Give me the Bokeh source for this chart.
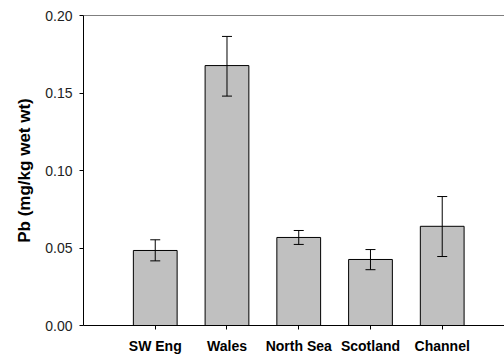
from bokeh.plotting import figure
from bokeh.models import (ColumnDataSource, Range1d, FixedTicker, NumeralTickFormatter,
                          Whisker, TeeHead)
from bokeh.embed import file_html
from bokeh.resources import INLINE

regions = ["SW Eng", "Wales", "North Sea", "Scotland", "Channel"]
pb_mean = [0.0484, 0.1677, 0.0568, 0.0426, 0.0640]
pb_lower = [0.0417, 0.1480, 0.0523, 0.0360, 0.0445]
pb_upper = [0.0553, 0.1865, 0.0613, 0.0490, 0.0832]
y_ticks = [0.00, 0.05, 0.10, 0.15, 0.20]

y_max = 0.20
x_end = 5.868
xs = list(range(1, len(regions) + 1))

src = ColumnDataSource(dict(x=xs, top=pb_mean, lower=pb_lower, upper=pb_upper))

p = figure(width=504, height=356, output_backend="svg", toolbar_location=None,
           x_range=Range1d(0.0, x_end), y_range=Range1d(0.0, y_max),
           min_border_left=83, min_border_right=0, min_border_top=15, min_border_bottom=31)
p.background_fill_color = None
p.border_fill_color = None
p.outline_line_color = None
p.outline_line_width = 0
p.outline_line_alpha = 0
p.xgrid.grid_line_color = None
p.ygrid.grid_line_color = None

p.vbar(x="x", top="top", bottom=0, width=0.61, source=src,
       fill_color="#c0c0c0", line_color="black", line_width=1)

wh = Whisker(base="x", lower="lower", upper="upper", source=src,
             line_color="black", line_width=1, level="overlay",
             upper_head=TeeHead(size=10, line_color="black", line_width=1),
             lower_head=TeeHead(size=10, line_color="black", line_width=1))
p.add_layout(wh)

# top frame edge
p.segment(x0=[0.0], y0=[y_max], x1=[x_end], y1=[y_max], line_color="black", line_width=1)

# x axis
p.xaxis.ticker = FixedTicker(ticks=xs)
p.xaxis.major_label_overrides = {x: r for x, r in zip(xs, regions)}
p.xaxis.minor_tick_line_color = None
p.xaxis.major_tick_in = 0
p.xaxis.major_tick_out = 4
p.xaxis.major_label_standoff = 8
p.xaxis.major_label_text_font = "Liberation Sans"
p.xaxis.major_label_text_font_style = "bold"
p.xaxis.major_label_text_font_size = "14px"
p.xaxis.major_label_text_color = "black"
p.xaxis.axis_line_color = "black"

# y axis
p.yaxis.ticker = FixedTicker(ticks=y_ticks)
p.yaxis.formatter = NumeralTickFormatter(format="0.00")
p.yaxis.minor_tick_line_color = None
p.yaxis.major_tick_in = 0
p.yaxis.major_tick_out = 4
p.yaxis.major_label_standoff = 7
p.yaxis.major_label_text_font = "Liberation Sans"
p.yaxis.major_label_text_font_size = "14px"
p.yaxis.major_label_text_color = "#222222"
p.yaxis.axis_line_color = "black"
p.yaxis.axis_label = "Pb (mg/kg wet wt)"
p.yaxis.axis_label_text_font = "Liberation Sans"
p.yaxis.axis_label_text_font_style = "bold"
p.yaxis.axis_label_text_font_size = "17px"
p.yaxis.axis_label_text_color = "black"
p.yaxis.axis_label_standoff = 8

open("out.html", "w").write(file_html(p, INLINE))
